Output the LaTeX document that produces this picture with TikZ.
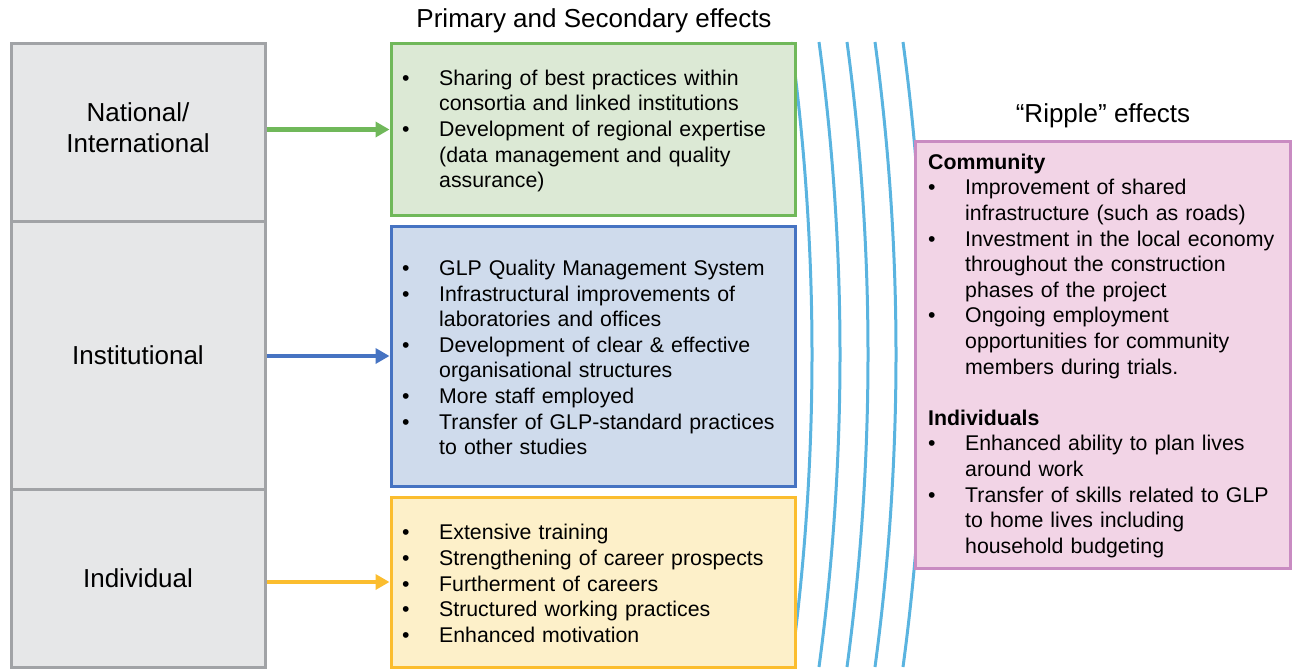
\documentclass[tikz,border=0pt]{standalone}
\usepackage{fontspec}
\setmainfont{Liberation Sans}
\usetikzlibrary{arrows.meta,positioning}

% 颜色
\definecolor{lvlFill}{HTML}{E6E7E8}
\definecolor{lvlLine}{HTML}{A1A3A6}
\definecolor{grnFill}{HTML}{DCE9D5}
\definecolor{grnLine}{HTML}{70B85A}
\definecolor{bluFill}{HTML}{CFDBEC}
\definecolor{bluLine}{HTML}{4673C2}
\definecolor{ylwFill}{HTML}{FDF0C9}
\definecolor{ylwLine}{HTML}{FBBD2E}
\definecolor{pnkFill}{HTML}{F2D4E6}
\definecolor{pnkLine}{HTML}{C98BC2}
\definecolor{ripLine}{HTML}{5AB4E0}

% 带悬挂缩进的项目符号
\newcommand{\bul}[1]{\par\hangindent=37pt\hangafter=1\noindent\strut\makebox[37pt][l]{\textbullet}#1\par}

\tikzset{
    lvl/.style={draw=lvlLine, fill=lvlFill, line width=3pt, rectangle,
        inner sep=0pt, align=center, font=\fontsize{26}{31}\selectfont},
    effbox/.style={rectangle, line width=3pt, inner sep=0pt},
    txt/.style={anchor=north west, inner sep=0pt, text width=#1,
        font=\fontsize{21.3}{25.6}\selectfont},
    ttl/.style={inner sep=0pt, font=\fontsize{26}{31}\selectfont},
    arr/.style={line width=4.5pt, -{Triangle[length=14pt,width=15pt]}},
}

\begin{document}
\begin{tikzpicture}[x=1pt, y=-1pt]
    \useasboundingbox (0,0) rectangle (1292,669);

    % 涟漪弧线 (在最底层)
    \foreach \k in {0,...,4} {
        \pgfmathsetmacro{\xa}{791+28*\k}
        \draw[ripLine, line width=3pt] (\xa,42)
            .. controls (\xa+28,250) and (\xa+28,459) .. (\xa,667);
    }

    % 左侧三个层级
    \node[lvl, minimum width=254, minimum height=177] (nat) at (138,132.5) {};
    \node[lvl, minimum width=254, minimum height=268] (inst) at (138,355)
        {Institutional};
    \node[lvl, minimum width=254, minimum height=178] (indiv) at (138,578)
        {Individual};
    \node[lvl, draw=none, fill=none] (natTxt) at (138,127.5)
        {National/\\International};

    % 中间三个效应框
    \node[effbox, draw=grnLine, fill=grnFill, minimum width=404, minimum height=171]
        (grn) at (593,129.5) {};
    \node[effbox, draw=bluLine, fill=bluFill, minimum width=404, minimum height=260]
        (blu) at (593,356) {};
    \node[effbox, draw=ylwLine, fill=ylwFill, minimum width=404, minimum height=170]
        (ylw) at (593,582) {};

    % 右侧 ripple 框
    \node[effbox, draw=pnkLine, fill=pnkFill, minimum width=375, minimum height=427]
        (pnk) at (1102.5,354.5) {};

    % 标题
    \node[ttl] (ttlA) at (594,21) {Primary and Secondary effects};
    \node[ttl] (ttlB) at (1103,116) {“Ripple” effects};

    % 各框文字
    \node[txt=390] (grnTxt) at (402,59.6) {%
        \bul{Sharing of best practices within\newline consortia and linked institutions}
        \bul{Development of regional expertise\newline (data management and quality\newline assurance)}};
    \node[txt=390] (bluTxt) at (402,249.6) {%
        \bul{GLP Quality Management System}
        \bul{Infrastructural improvements of\newline laboratories and offices}
        \bul{Development of clear \& effective\newline organisational structures}
        \bul{More staff employed}
        \bul{Transfer of GLP-standard practices\newline to other studies}};
    \node[txt=390] (ylwTxt) at (402,514.1) {%
        \bul{Extensive training}
        \bul{Strengthening of career prospects}
        \bul{Furtherment of careers}
        \bul{Structured working practices}
        \bul{Enhanced motivation}};
    \node[txt=360] (pnkTxt) at (928,151.1) {%
        \noindent\strut\textbf{Community}
        \bul{Improvement of shared\newline infrastructure (such as roads)}
        \bul{Investment in the local economy\newline throughout the construction\newline phases of the project}
        \bul{Ongoing employment\newline opportunities for community\newline members during trials.}
        \noindent\strut\par
        \noindent\strut\textbf{Individuals}
        \bul{Enhanced ability to plan lives\newline around work}
        \bul{Transfer of skills related to GLP\newline to home lives including\newline household budgeting}};

    % 箭头
    \draw[arr, grnLine] (grn.west -| nat.east) -- (grn.west);
    \draw[arr, bluLine] (blu.west -| inst.east) -- (blu.west);
    \draw[arr, ylwLine] (ylw.west -| indiv.east) -- (ylw.west);
\end{tikzpicture}
\end{document}
